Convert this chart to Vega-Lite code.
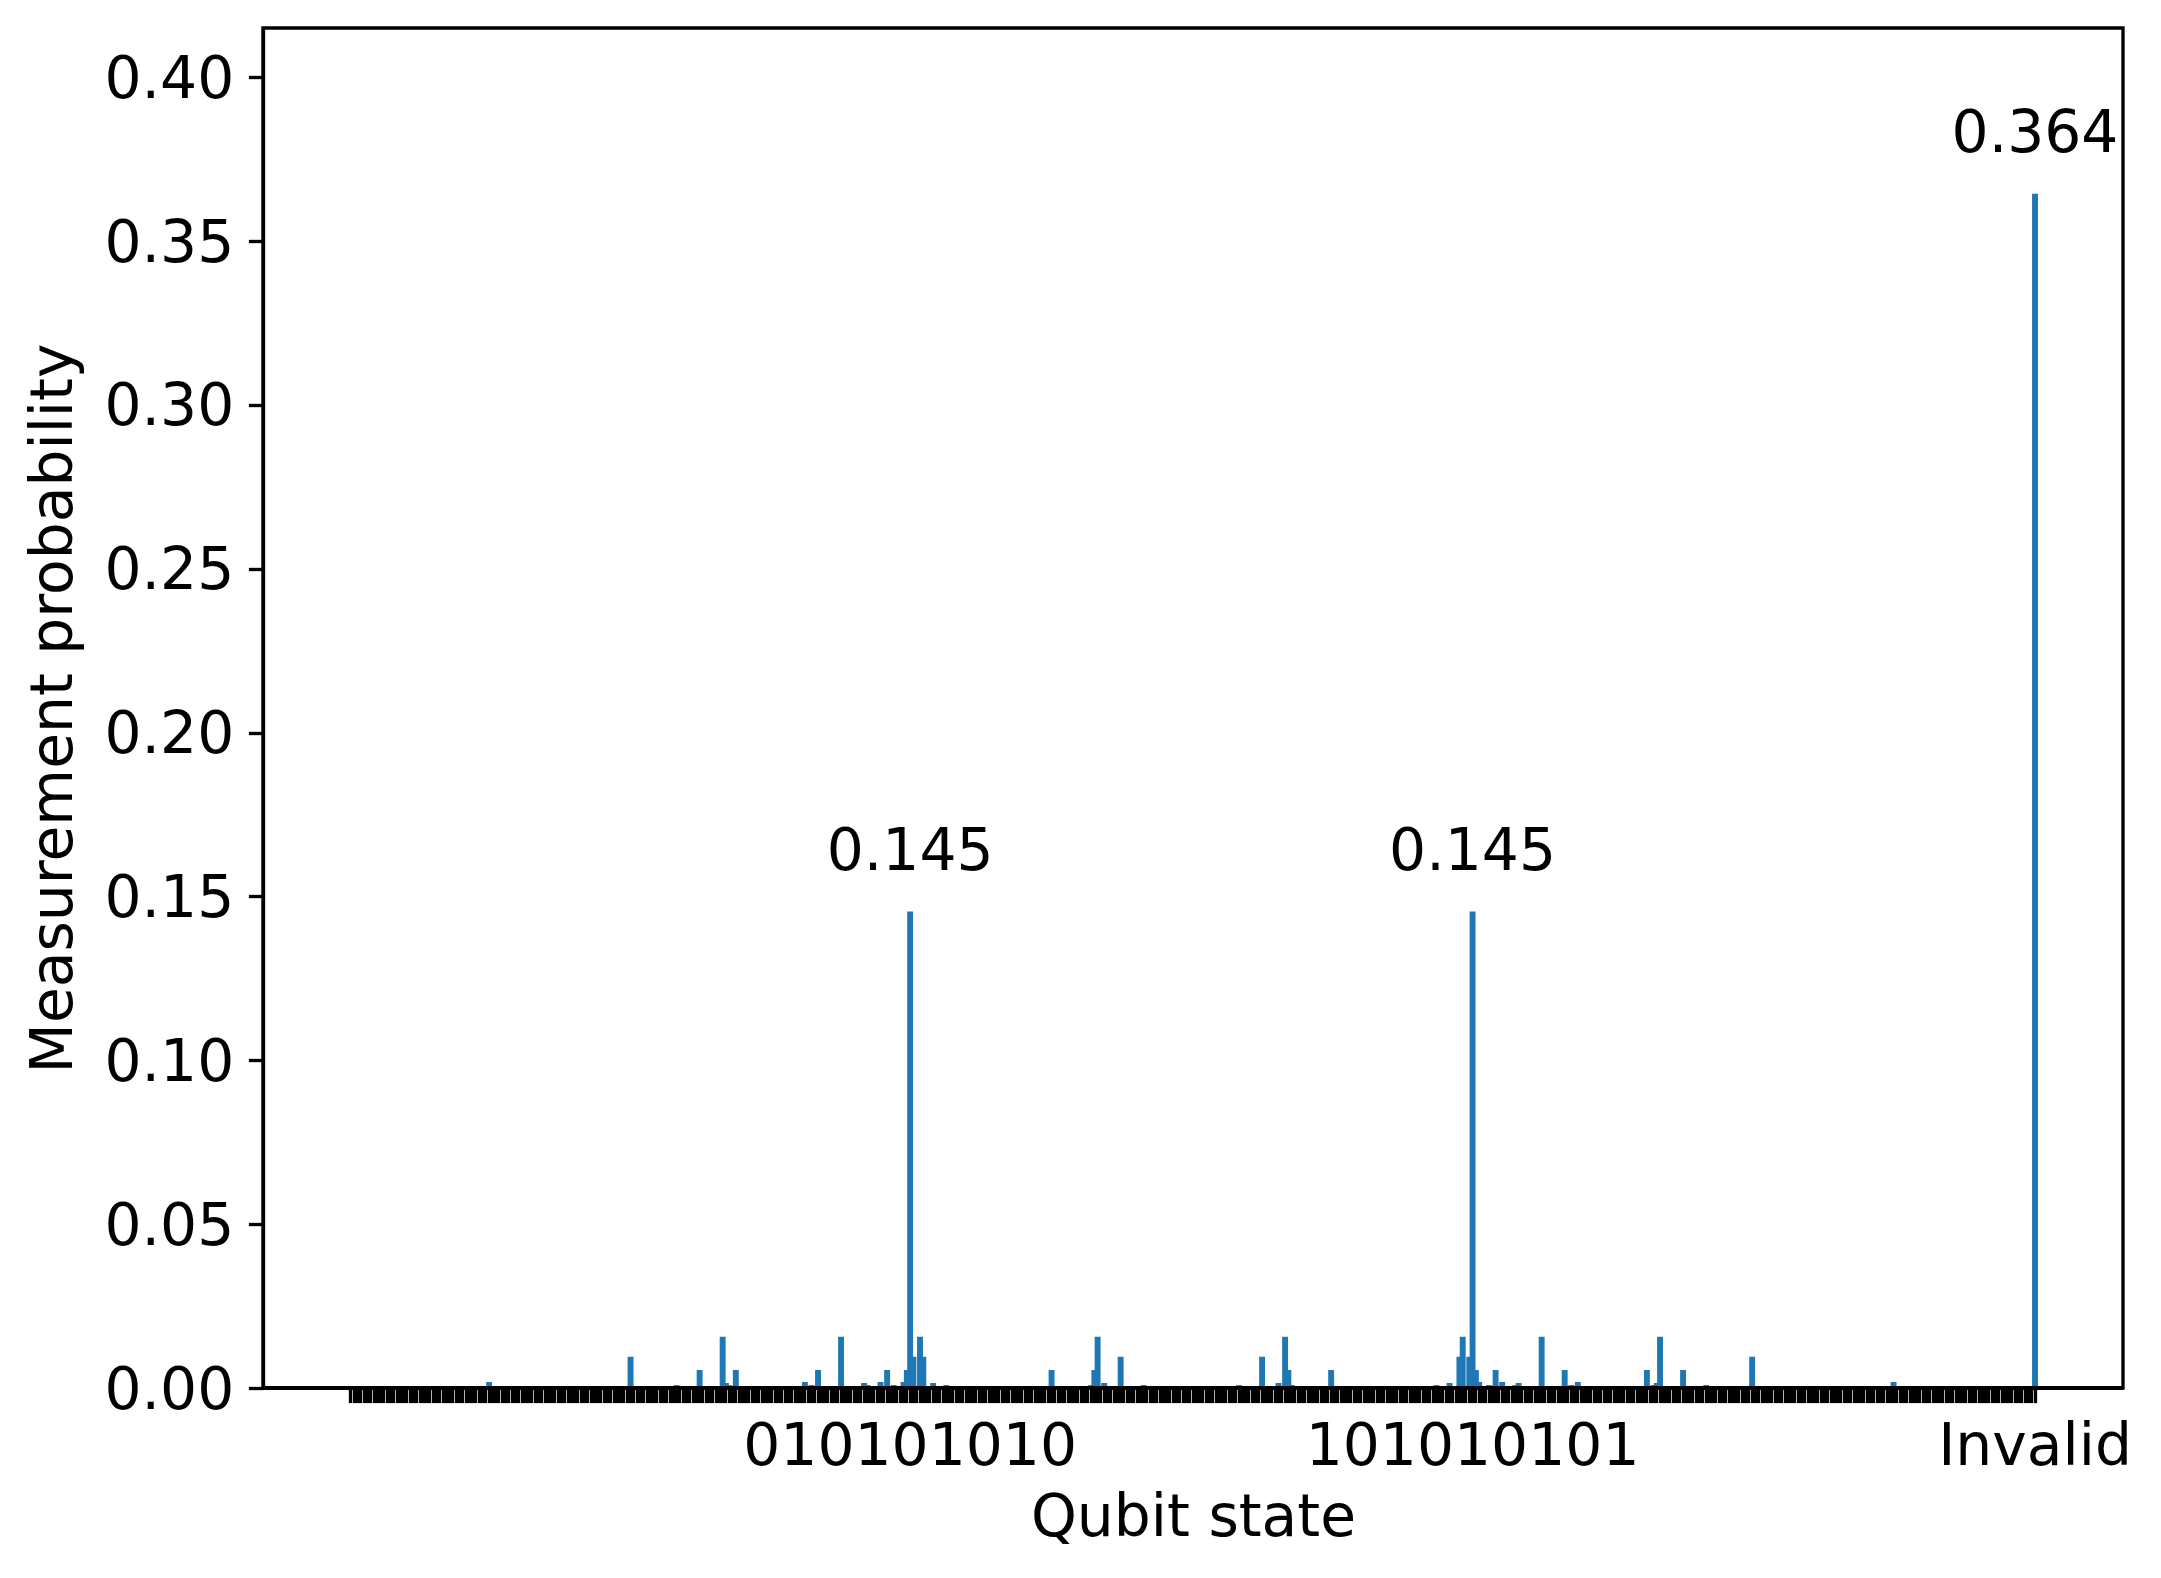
{
"$schema": "https://vega.github.io/schema/vega-lite/v6.json",
"width": 1860, "height": 1360,
"autosize": {"type": "none"},
"padding": {"left": 263, "top": 28, "right": 38, "bottom": 190},
"background": "white",
"config": {"view": {"stroke": "black", "strokeWidth": 3.33}, "font": "DejaVu Sans"},
"data": {"values": [
{"s":"000000000","p":0},{"s":"000000001","p":0},{"s":"000000010","p":0},{"s":"000000011","p":0},{"s":"000000100","p":0},{"s":"000000101","p":0},{"s":"000000110","p":0},{"s":"000000111","p":0},
{"s":"000001000","p":0},{"s":"000001001","p":0},{"s":"000001010","p":0},{"s":"000001011","p":0},{"s":"000001100","p":0},{"s":"000001101","p":0},{"s":"000001110","p":0},{"s":"000001111","p":0},
{"s":"000010000","p":0},{"s":"000010001","p":0},{"s":"000010010","p":0},{"s":"000010011","p":0},{"s":"000010100","p":0},{"s":"000010101","p":0},{"s":"000010110","p":0},{"s":"000010111","p":0},
{"s":"000011000","p":0},{"s":"000011001","p":0},{"s":"000011010","p":0},{"s":"000011011","p":0},{"s":"000011100","p":0},{"s":"000011101","p":0},{"s":"000011110","p":0},{"s":"000011111","p":0},
{"s":"000100000","p":0},{"s":"000100001","p":0},{"s":"000100010","p":0},{"s":"000100011","p":0},{"s":"000100100","p":0},{"s":"000100101","p":0},{"s":"000100110","p":0},{"s":"000100111","p":0},
{"s":"000101000","p":0},{"s":"000101001","p":0},{"s":"000101010","p":0.0014},{"s":"000101011","p":0},{"s":"000101100","p":0},{"s":"000101101","p":0},{"s":"000101110","p":0},{"s":"000101111","p":0},
{"s":"000110000","p":0},{"s":"000110001","p":0},{"s":"000110010","p":0},{"s":"000110011","p":0},{"s":"000110100","p":0},{"s":"000110101","p":0},{"s":"000110110","p":0},{"s":"000110111","p":0},
{"s":"000111000","p":0},{"s":"000111001","p":0},{"s":"000111010","p":0},{"s":"000111011","p":0},{"s":"000111100","p":0},{"s":"000111101","p":0},{"s":"000111110","p":0},{"s":"000111111","p":0},
{"s":"001000000","p":0},{"s":"001000001","p":0},{"s":"001000010","p":0},{"s":"001000011","p":0},{"s":"001000100","p":0},{"s":"001000101","p":0},{"s":"001000110","p":0},{"s":"001000111","p":0},
{"s":"001001000","p":0},{"s":"001001001","p":0},{"s":"001001010","p":0},{"s":"001001011","p":0},{"s":"001001100","p":0},{"s":"001001101","p":0},{"s":"001001110","p":0},{"s":"001001111","p":0},
{"s":"001010000","p":0},{"s":"001010001","p":0},{"s":"001010010","p":0},{"s":"001010011","p":0},{"s":"001010100","p":0},{"s":"001010101","p":0.0091},{"s":"001010110","p":0},{"s":"001010111","p":0},
{"s":"001011000","p":0},{"s":"001011001","p":0},{"s":"001011010","p":0},{"s":"001011011","p":0},{"s":"001011100","p":0},{"s":"001011101","p":0},{"s":"001011110","p":0},{"s":"001011111","p":0},
{"s":"001100000","p":0},{"s":"001100001","p":0},{"s":"001100010","p":0.0002},{"s":"001100011","p":0.0005},{"s":"001100100","p":0},{"s":"001100101","p":0},{"s":"001100110","p":0},{"s":"001100111","p":0},
{"s":"001101000","p":0},{"s":"001101001","p":0},{"s":"001101010","p":0.0051},{"s":"001101011","p":0},{"s":"001101100","p":0},{"s":"001101101","p":0},{"s":"001101110","p":0},{"s":"001101111","p":0},
{"s":"001110000","p":0},{"s":"001110001","p":0.0152},{"s":"001110010","p":0.0011},{"s":"001110011","p":0.0005},{"s":"001110100","p":0},{"s":"001110101","p":0.0051},{"s":"001110110","p":0},{"s":"001110111","p":0},
{"s":"001111000","p":0},{"s":"001111001","p":0},{"s":"001111010","p":0},{"s":"001111011","p":0},{"s":"001111100","p":0},{"s":"001111101","p":0},{"s":"001111110","p":0},{"s":"001111111","p":0},
{"s":"010000000","p":0},{"s":"010000001","p":0},{"s":"010000010","p":0},{"s":"010000011","p":0},{"s":"010000100","p":0},{"s":"010000101","p":0},{"s":"010000110","p":0},{"s":"010000111","p":0},
{"s":"010001000","p":0},{"s":"010001001","p":0},{"s":"010001010","p":0.0014},{"s":"010001011","p":0.0002},{"s":"010001100","p":0.0005},{"s":"010001101","p":0},{"s":"010001110","p":0.0051},{"s":"010001111","p":0},
{"s":"010010000","p":0},{"s":"010010001","p":0},{"s":"010010010","p":0},{"s":"010010011","p":0},{"s":"010010100","p":0},{"s":"010010101","p":0.0152},{"s":"010010110","p":0},{"s":"010010111","p":0},
{"s":"010011000","p":0},{"s":"010011001","p":0},{"s":"010011010","p":0},{"s":"010011011","p":0},{"s":"010011100","p":0.0011},{"s":"010011101","p":0.0005},{"s":"010011110","p":0},{"s":"010011111","p":0},
{"s":"010100000","p":0.0002},{"s":"010100001","p":0.0014},{"s":"010100010","p":0},{"s":"010100011","p":0.0051},{"s":"010100100","p":0},{"s":"010100101","p":0.0005},{"s":"010100110","p":0},{"s":"010100111","p":0},
{"s":"010101000","p":0.0014},{"s":"010101001","p":0.0051},{"s":"010101010","p":0.145},{"s":"010101011","p":0.0091},{"s":"010101100","p":0},{"s":"010101101","p":0.0152},{"s":"010101110","p":0.0091},{"s":"010101111","p":0},
{"s":"010110000","p":0},{"s":"010110001","p":0.0011},{"s":"010110010","p":0},{"s":"010110011","p":0},{"s":"010110100","p":0},{"s":"010110101","p":0.0005},{"s":"010110110","p":0},{"s":"010110111","p":0},
{"s":"010111000","p":0},{"s":"010111001","p":0},{"s":"010111010","p":0},{"s":"010111011","p":0},{"s":"010111100","p":0},{"s":"010111101","p":0},{"s":"010111110","p":0},{"s":"010111111","p":0},
{"s":"011000000","p":0},{"s":"011000001","p":0},{"s":"011000010","p":0},{"s":"011000011","p":0},{"s":"011000100","p":0},{"s":"011000101","p":0},{"s":"011000110","p":0},{"s":"011000111","p":0},
{"s":"011001000","p":0},{"s":"011001001","p":0},{"s":"011001010","p":0},{"s":"011001011","p":0},{"s":"011001100","p":0},{"s":"011001101","p":0},{"s":"011001110","p":0},{"s":"011001111","p":0},
{"s":"011010000","p":0},{"s":"011010001","p":0},{"s":"011010010","p":0},{"s":"011010011","p":0},{"s":"011010100","p":0},{"s":"011010101","p":0.0051},{"s":"011010110","p":0},{"s":"011010111","p":0},
{"s":"011011000","p":0},{"s":"011011001","p":0},{"s":"011011010","p":0},{"s":"011011011","p":0},{"s":"011011100","p":0},{"s":"011011101","p":0},{"s":"011011110","p":0},{"s":"011011111","p":0},
{"s":"011100000","p":0},{"s":"011100001","p":0.0005},{"s":"011100010","p":0.0051},{"s":"011100011","p":0.0152},{"s":"011100100","p":0},{"s":"011100101","p":0.0011},{"s":"011100110","p":0},{"s":"011100111","p":0},
{"s":"011101000","p":0},{"s":"011101001","p":0},{"s":"011101010","p":0.0091},{"s":"011101011","p":0},{"s":"011101100","p":0},{"s":"011101101","p":0},{"s":"011101110","p":0},{"s":"011101111","p":0},
{"s":"011110000","p":0},{"s":"011110001","p":0.0005},{"s":"011110010","p":0},{"s":"011110011","p":0},{"s":"011110100","p":0},{"s":"011110101","p":0.0002},{"s":"011110110","p":0},{"s":"011110111","p":0},
{"s":"011111000","p":0},{"s":"011111001","p":0},{"s":"011111010","p":0},{"s":"011111011","p":0},{"s":"011111100","p":0},{"s":"011111101","p":0},{"s":"011111110","p":0},{"s":"011111111","p":0},
{"s":"100000000","p":0},{"s":"100000001","p":0},{"s":"100000010","p":0},{"s":"100000011","p":0},{"s":"100000100","p":0},{"s":"100000101","p":0},{"s":"100000110","p":0},{"s":"100000111","p":0},
{"s":"100001000","p":0},{"s":"100001001","p":0},{"s":"100001010","p":0.0002},{"s":"100001011","p":0},{"s":"100001100","p":0},{"s":"100001101","p":0},{"s":"100001110","p":0.0005},{"s":"100001111","p":0},
{"s":"100010000","p":0},{"s":"100010001","p":0},{"s":"100010010","p":0},{"s":"100010011","p":0},{"s":"100010100","p":0},{"s":"100010101","p":0.0091},{"s":"100010110","p":0},{"s":"100010111","p":0},
{"s":"100011000","p":0},{"s":"100011001","p":0},{"s":"100011010","p":0.0011},{"s":"100011011","p":0},{"s":"100011100","p":0.0152},{"s":"100011101","p":0.0051},{"s":"100011110","p":0.0005},{"s":"100011111","p":0},
{"s":"100100000","p":0},{"s":"100100001","p":0},{"s":"100100010","p":0},{"s":"100100011","p":0},{"s":"100100100","p":0},{"s":"100100101","p":0},{"s":"100100110","p":0},{"s":"100100111","p":0},
{"s":"100101000","p":0},{"s":"100101001","p":0},{"s":"100101010","p":0.0051},{"s":"100101011","p":0},{"s":"100101100","p":0},{"s":"100101101","p":0},{"s":"100101110","p":0},{"s":"100101111","p":0},
{"s":"100110000","p":0},{"s":"100110001","p":0},{"s":"100110010","p":0},{"s":"100110011","p":0},{"s":"100110100","p":0},{"s":"100110101","p":0},{"s":"100110110","p":0},{"s":"100110111","p":0},
{"s":"100111000","p":0},{"s":"100111001","p":0},{"s":"100111010","p":0},{"s":"100111011","p":0},{"s":"100111100","p":0},{"s":"100111101","p":0},{"s":"100111110","p":0},{"s":"100111111","p":0},
{"s":"101000000","p":0},{"s":"101000001","p":0},{"s":"101000010","p":0},{"s":"101000011","p":0},{"s":"101000100","p":0},{"s":"101000101","p":0},{"s":"101000110","p":0},{"s":"101000111","p":0},
{"s":"101001000","p":0},{"s":"101001001","p":0},{"s":"101001010","p":0.0005},{"s":"101001011","p":0},{"s":"101001100","p":0},{"s":"101001101","p":0},{"s":"101001110","p":0.0011},{"s":"101001111","p":0},
{"s":"101010000","p":0},{"s":"101010001","p":0.0091},{"s":"101010010","p":0.0152},{"s":"101010011","p":0},{"s":"101010100","p":0.0091},{"s":"101010101","p":0.145},{"s":"101010110","p":0.0051},{"s":"101010111","p":0.0014},
{"s":"101011000","p":0},{"s":"101011001","p":0},{"s":"101011010","p":0.0005},{"s":"101011011","p":0},{"s":"101011100","p":0.0051},{"s":"101011101","p":0},{"s":"101011110","p":0.0014},{"s":"101011111","p":0.0002},
{"s":"101100000","p":0},{"s":"101100001","p":0},{"s":"101100010","p":0.0005},{"s":"101100011","p":0.0011},{"s":"101100100","p":0},{"s":"101100101","p":0},{"s":"101100110","p":0},{"s":"101100111","p":0},
{"s":"101101000","p":0},{"s":"101101001","p":0},{"s":"101101010","p":0.0152},{"s":"101101011","p":0},{"s":"101101100","p":0},{"s":"101101101","p":0},{"s":"101101110","p":0},{"s":"101101111","p":0},
{"s":"101110000","p":0},{"s":"101110001","p":0.0051},{"s":"101110010","p":0},{"s":"101110011","p":0.0005},{"s":"101110100","p":0.0002},{"s":"101110101","p":0.0014},{"s":"101110110","p":0},{"s":"101110111","p":0},
{"s":"101111000","p":0},{"s":"101111001","p":0},{"s":"101111010","p":0},{"s":"101111011","p":0},{"s":"101111100","p":0},{"s":"101111101","p":0},{"s":"101111110","p":0},{"s":"101111111","p":0},
{"s":"110000000","p":0},{"s":"110000001","p":0},{"s":"110000010","p":0},{"s":"110000011","p":0},{"s":"110000100","p":0},{"s":"110000101","p":0},{"s":"110000110","p":0},{"s":"110000111","p":0},
{"s":"110001000","p":0},{"s":"110001001","p":0},{"s":"110001010","p":0.0051},{"s":"110001011","p":0},{"s":"110001100","p":0.0005},{"s":"110001101","p":0.0011},{"s":"110001110","p":0.0152},{"s":"110001111","p":0},
{"s":"110010000","p":0},{"s":"110010001","p":0},{"s":"110010010","p":0},{"s":"110010011","p":0},{"s":"110010100","p":0},{"s":"110010101","p":0.0051},{"s":"110010110","p":0},{"s":"110010111","p":0},
{"s":"110011000","p":0},{"s":"110011001","p":0},{"s":"110011010","p":0},{"s":"110011011","p":0},{"s":"110011100","p":0.0005},{"s":"110011101","p":0.0002},{"s":"110011110","p":0},{"s":"110011111","p":0},
{"s":"110100000","p":0},{"s":"110100001","p":0},{"s":"110100010","p":0},{"s":"110100011","p":0},{"s":"110100100","p":0},{"s":"110100101","p":0},{"s":"110100110","p":0},{"s":"110100111","p":0},
{"s":"110101000","p":0},{"s":"110101001","p":0},{"s":"110101010","p":0.0091},{"s":"110101011","p":0},{"s":"110101100","p":0},{"s":"110101101","p":0},{"s":"110101110","p":0},{"s":"110101111","p":0},
{"s":"110110000","p":0},{"s":"110110001","p":0},{"s":"110110010","p":0},{"s":"110110011","p":0},{"s":"110110100","p":0},{"s":"110110101","p":0},{"s":"110110110","p":0},{"s":"110110111","p":0},
{"s":"110111000","p":0},{"s":"110111001","p":0},{"s":"110111010","p":0},{"s":"110111011","p":0},{"s":"110111100","p":0},{"s":"110111101","p":0},{"s":"110111110","p":0},{"s":"110111111","p":0},
{"s":"111000000","p":0},{"s":"111000001","p":0},{"s":"111000010","p":0},{"s":"111000011","p":0},{"s":"111000100","p":0},{"s":"111000101","p":0},{"s":"111000110","p":0},{"s":"111000111","p":0},
{"s":"111001000","p":0},{"s":"111001001","p":0},{"s":"111001010","p":0},{"s":"111001011","p":0},{"s":"111001100","p":0},{"s":"111001101","p":0},{"s":"111001110","p":0},{"s":"111001111","p":0},
{"s":"111010000","p":0},{"s":"111010001","p":0},{"s":"111010010","p":0},{"s":"111010011","p":0},{"s":"111010100","p":0},{"s":"111010101","p":0.0014},{"s":"111010110","p":0},{"s":"111010111","p":0},
{"s":"111011000","p":0},{"s":"111011001","p":0},{"s":"111011010","p":0},{"s":"111011011","p":0},{"s":"111011100","p":0},{"s":"111011101","p":0},{"s":"111011110","p":0},{"s":"111011111","p":0},
{"s":"111100000","p":0},{"s":"111100001","p":0},{"s":"111100010","p":0},{"s":"111100011","p":0},{"s":"111100100","p":0},{"s":"111100101","p":0},{"s":"111100110","p":0},{"s":"111100111","p":0},
{"s":"111101000","p":0},{"s":"111101001","p":0},{"s":"111101010","p":0},{"s":"111101011","p":0},{"s":"111101100","p":0},{"s":"111101101","p":0},{"s":"111101110","p":0},{"s":"111101111","p":0},
{"s":"111110000","p":0},{"s":"111110001","p":0},{"s":"111110010","p":0},{"s":"111110011","p":0},{"s":"111110100","p":0},{"s":"111110101","p":0},{"s":"111110110","p":0},{"s":"111110111","p":0},
{"s":"111111000","p":0},{"s":"111111001","p":0},{"s":"111111010","p":0},{"s":"111111011","p":0},{"s":"111111100","p":0},{"s":"111111101","p":0},{"s":"111111110","p":0},{"s":"111111111","p":0},
{"s":"Invalid","p":0.364}
]},
"layer": [
{"mark": {"type": "bar", "color": "#1f77b4", "stroke": "#1f77b4", "strokeWidth": 2.63},
 "encoding": {
  "x": {"field": "s", "type": "ordinal", "sort": null,
        "scale": {"paddingInner": 0, "paddingOuter": 0, "range": [86.34, 1773.66]},
        "axis": {"title": "Qubit state",
                 "labelExpr": "indexof(['010101010','101010101','Invalid'], datum.label) >= 0 ? datum.label : ''",
                 "labelAngle": 0, "labelOverlap": false, "labelLimit": 0, "labelFontSize": 58.3, "labelColor": "black",
                 "labelPadding": 16, "tickColor": "black", "tickWidth": 3.33, "tickSize": 14.6,
                 "domain": false,
                 "titleFontSize": 58.3, "titleFontWeight": "normal", "titleColor": "black", "titlePadding": 14,
                 "zindex": 1}},
  "y": {"field": "p", "type": "quantitative",
        "scale": {"domain": [0, 0.415], "nice": false},
        "axis": {"title": "Measurement probability",
                 "values": [0, 0.05, 0.1, 0.15, 0.2, 0.25, 0.3, 0.35, 0.4], "format": ".2f",
                 "labelFontSize": 58.3, "labelColor": "black", "labelPadding": 14.6,
                 "labelBaseline": "alphabetic", "labelOffset": 20,
                 "tickColor": "black", "tickWidth": 3.33, "tickSize": 14.6,
                 "domainColor": "black", "domainWidth": 3.33, "grid": false,
                 "titleFontSize": 58.3, "titleFontWeight": "normal", "titleColor": "black", "titlePadding": 20,
                 "zindex": 1}}
 }},
{"transform": [{"filter": "datum.p > 0.1"}],
 "mark": {"type": "text", "dy": -43, "baseline": "alphabetic", "align": "center", "fontSize": 58.3, "color": "black"},
 "encoding": {
  "x": {"field": "s", "type": "ordinal", "sort": null},
  "y": {"field": "p", "type": "quantitative"},
  "text": {"field": "p", "type": "quantitative", "format": ".3f"}
 }},
{"mark": {"type": "rule", "color": "black", "strokeWidth": 3.33},
 "encoding": {"y": {"datum": 0, "type": "quantitative"}}}
]
}
